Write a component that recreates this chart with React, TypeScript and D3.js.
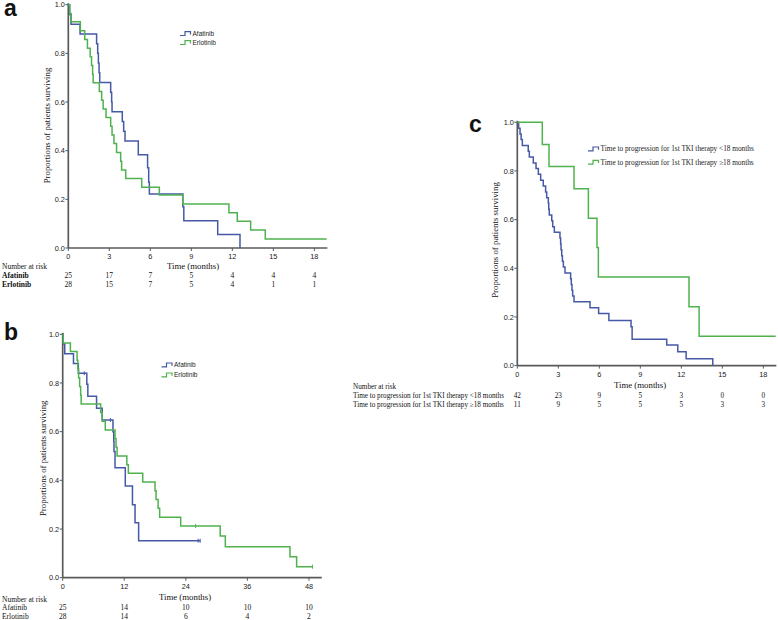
import React from "react";
import * as d3 from "d3";

const BLUE = "#4659a6";
const GREEN = "#4fb24f";
const SERIF = "'Liberation Serif', 'Times New Roman', serif";
const SANS = "'Liberation Sans', Arial, sans-serif";

// ---------- Panel a (PFS, months 0-18) ----------
const aTicks = [0, 3, 6, 9, 12, 15, 18];
const aAfatinibT = [0.1, 0.2, 0.86, 2.07, 2.15, 2.2, 2.25, 2.3, 3.1, 3.17, 3.2, 3.95, 4.05, 4.15, 5.12, 5.8, 5.88, 5.93, 8.38, 8.45, 10.93, 12.56];
const aAfatinibS = [0.96, 0.92, 0.88, 0.84, 0.8, 0.76, 0.72, 0.68, 0.64, 0.6, 0.56, 0.52, 0.48, 0.44, 0.383, 0.33, 0.27, 0.222, 0.17, 0.112, 0.056, 0];
const aAfatinibEnd = 12.56;
const aErlotinibT = [0.1, 0.2, 0.88, 1.2, 1.4, 1.6, 1.7, 1.78, 1.82, 2.27, 2.44, 2.55, 2.76, 3.1, 3.2, 3.34, 3.53, 3.83, 3.9, 4.2, 5.37, 6.66, 8.37, 11.75, 12.36, 13.34, 14.41];
const aErlotinibS = [0.964, 0.93, 0.893, 0.857, 0.821, 0.786, 0.75, 0.714, 0.679, 0.643, 0.607, 0.571, 0.536, 0.5, 0.464, 0.429, 0.393, 0.357, 0.321, 0.286, 0.25, 0.218, 0.181, 0.145, 0.11, 0.074, 0.037];
const aErlotinibEnd = 18.9;
const aRiskAfatinib = [25, 17, 7, 5, 4, 4, 4];
const aRiskErlotinib = [28, 15, 7, 5, 4, 1, 1];

// ---------- Panel b (OS, months 0-48) ----------
const bTicks = [0, 12, 24, 36, 48];
const bAfatinibT = [0.1, 0.4, 2.1, 3.05, 4.7, 4.9, 6.6, 7.7, 9.8, 9.95, 10.0, 10.2, 12.2, 13.6, 14.1, 14.8];
const bAfatinibS = [0.96, 0.92, 0.88, 0.84, 0.795, 0.745, 0.696, 0.648, 0.6, 0.56, 0.518, 0.452, 0.377, 0.3, 0.226, 0.152];
const bAfatinibEnd = 26.8;
const bAfatinibCensorT = [4.2, 9.3, 26.4, 26.8];
const bAfatinibCensorS = [0.84, 0.648, 0.152, 0.152];
const bErlotinibT = [0.1, 1.5, 2.8, 2.95, 3.1, 3.3, 3.5, 3.6, 7.4, 7.7, 8.3, 10.2, 10.4, 10.6, 12.5, 12.8, 15.6, 18.0, 18.2, 18.6, 18.9, 23.0, 30.7, 31.7, 44.3, 45.6];
const bErlotinibS = [0.964, 0.929, 0.893, 0.857, 0.821, 0.786, 0.75, 0.714, 0.679, 0.643, 0.607, 0.571, 0.536, 0.5, 0.464, 0.429, 0.393, 0.357, 0.321, 0.285, 0.248, 0.212, 0.171, 0.127, 0.086, 0.045];
const bErlotinibEnd = 48.7;
const bErlotinibCensorT = [25.9, 48.7];
const bErlotinibCensorS = [0.212, 0.045];
const bRiskAfatinib = [25, 14, 10, 10, 10];
const bRiskErlotinib = [28, 14, 6, 4, 2];

// ---------- Panel c (by 1st TKI TTP) ----------
const cTicks = [0, 3, 6, 9, 12, 15, 18];
const cShortT = [0.1, 0.2, 0.28, 0.37, 0.8, 0.88, 1.17, 1.37, 1.54, 1.71, 1.9, 2.07, 2.15, 2.27, 2.3, 2.34, 2.52, 2.59, 2.71, 3.12, 3.17, 3.2, 3.25, 3.3, 3.37, 3.49, 3.9, 3.95, 4.0, 4.05, 4.15, 5.32, 5.95, 6.7, 8.32, 8.4, 10.93, 11.74, 12.35, 14.3];
const cShortS = [0.976, 0.952, 0.929, 0.905, 0.881, 0.857, 0.833, 0.81, 0.786, 0.762, 0.738, 0.714, 0.69, 0.667, 0.643, 0.619, 0.595, 0.571, 0.548, 0.524, 0.5, 0.476, 0.452, 0.429, 0.405, 0.381, 0.357, 0.333, 0.31, 0.286, 0.262, 0.238, 0.214, 0.185, 0.16, 0.108, 0.085, 0.057, 0.028, 0];
const cShortEnd = 14.3;
const cLongT = [1.83, 2.32, 4.15, 5.2, 5.83, 5.93, 12.56, 13.3];
const cLongS = [0.909, 0.818, 0.727, 0.606, 0.485, 0.364, 0.242, 0.121];
const cLongEnd = 18.9;
const cRiskShort = [42, 23, 9, 5, 3, 0, 0];
const cRiskLong = [11, 9, 5, 5, 5, 3, 3];
const cLabelShort = "Time to progression for 1st TKI therapy <18 months";
const cLabelLong = "Time to progression for 1st TKI therapy ≥18 months";

const yTicks = [0, 0.2, 0.4, 0.6, 0.8, 1.0];

type Series = { t: number[]; s: number[]; end: number; color: string; ct?: number[]; cs?: number[] };

function Panel(props: any) {
  const p = props;
  const x = d3.scaleLinear().domain([0, p.xMax]).range([p.x0, p.x1]);
  const y = d3.scaleLinear().domain([0, 1]).range([p.yBottom, p.yTop]);
  const line = d3
    .line<[number, number]>()
    .x((d) => x(d[0]))
    .y((d) => y(d[1]))
    .curve(d3.curveStepAfter);
  const fmt = d3.format(".1f");
  const axisColor = "#5a5a5a";
  return (
    <g>
      <text x={p.letterX} y={p.letterY} fontFamily={SANS} fontWeight="bold" fontSize={23} fill="#111">
        {p.letter}
      </text>
      {/* axes */}
      <line x1={p.x0} x2={p.x0} y1={y(1) - 1.5} y2={y(0)} stroke={axisColor} strokeWidth={1.7} />
      <line x1={p.x0} x2={p.x1} y1={y(0)} y2={y(0)} stroke={axisColor} strokeWidth={1.7} />
      {yTicks.map((v) => (
        <g key={"y" + v}>
          <line x1={p.x0 - 3} x2={p.x0} y1={y(v)} y2={y(v)} stroke={axisColor} strokeWidth={1} />
          <text x={p.x0 - 3.5} y={y(v) + 2.6} textAnchor="end" fontFamily={SANS} fontSize={7.3} fill="#222">
            {fmt(v)}
          </text>
        </g>
      ))}
      {p.ticks.map((v: number) => (
        <g key={"x" + v}>
          <line x1={x(v)} x2={x(v)} y1={y(0)} y2={y(0) + 3} stroke={axisColor} strokeWidth={1} />
          <text x={x(v)} y={y(0) + 11.3} textAnchor="middle" fontFamily={SANS} fontSize={7.3} fill="#222">
            {v}
          </text>
        </g>
      ))}
      <text
        transform={`translate(${p.yLabelX},${p.yLabelY}) rotate(-90)`}
        textAnchor="middle"
        fontFamily={SERIF}
        fontSize={8.8}
        fill="#111"
      >
        Proportions of patients surviving
      </text>
      <text x={p.xLabelX} y={p.xLabelY} textAnchor="middle" fontFamily={SERIF} fontSize={8.8} fill="#111">
        Time (months)
      </text>
      {/* curves */}
      {p.series.map((sr: Series, i: number) => {
        const pts: [number, number][] = [[0, 1]];
        sr.t.forEach((t, k) => pts.push([t, sr.s[k]]));
        pts.push([sr.end, sr.s[sr.s.length - 1]]);
        return (
          <g key={"s" + i}>
            <path d={line(pts) || ""} fill="none" stroke={sr.color} strokeWidth={1.5} />
            {(sr.ct || []).map((t, k) => (
              <line
                key={k}
                x1={x(t)}
                x2={x(t)}
                y1={y(sr.cs![k]) - 2}
                y2={y(sr.cs![k]) + 2}
                stroke={sr.color}
                strokeWidth={1}
              />
            ))}
          </g>
        );
      })}
      {/* legend */}
      {p.legend.map((lg: any, i: number) => {
        const ly = p.legendY + i * p.legendGap;
        const lx = p.legendX;
        return (
          <g key={"l" + i}>
            <path
              d={`M${lx},${ly + 1.8} H${lx + 5} V${ly - 2} H${lx + 10.5} V${ly + 0.8}`}
              fill="none"
              stroke={lg.color}
              strokeWidth={1.2}
            />
            <text
              x={lx + 12.5}
              y={ly + 2.3}
              fontFamily={lg.font}
              fontSize={lg.size}
              fill="#222"
            >
              {lg.label}
            </text>
          </g>
        );
      })}
      {/* number at risk */}
      <text x={p.riskX} y={p.riskY} fontFamily={SERIF} fontSize={p.riskSize} fill="#111">
        Number at risk
      </text>
      {p.riskRows.map((row: any, i: number) => (
        <g key={"r" + i}>
          <text
            x={p.riskX}
            y={p.riskY + (i + 1) * p.riskGap}
            fontFamily={SERIF}
            fontSize={p.riskSize}
            fontWeight={row.bold ? "bold" : "normal"}
            fill="#111"
          >
            {row.label}
          </text>
          {row.values.map((v: number, k: number) => (
            <text
              key={k}
              x={x(p.ticks[k])}
              y={p.riskY + (i + 1) * p.riskGap}
              textAnchor="middle"
              fontFamily={SERIF}
              fontSize={p.riskSize}
              fill="#111"
            >
              {v}
            </text>
          ))}
        </g>
      ))}
    </g>
  );
}

export default function App() {
  const ppmA = 13.67;
  const ppmB = 5.13;
  return (
    <svg
      width={778}
      height={620}
      style={{ display: "block", background: "#fff", position: "absolute", left: 0, top: 0 }}
    >
      <Panel
        letter="a"
        letterX={4}
        letterY={16}
        x0={68.3}
        x1={68.3 + 18.95 * ppmA}
        xMax={18.95}
        yTop={4.7}
        yBottom={248}
        ticks={aTicks}
        yLabelX={49.5}
        yLabelY={125.5}
        xLabelX={193}
        xLabelY={269.3}
        series={[
          { t: aAfatinibT, s: aAfatinibS, end: aAfatinibEnd, color: BLUE },
          { t: aErlotinibT, s: aErlotinibS, end: aErlotinibEnd, color: GREEN },
        ]}
        legend={[
          { label: "Afatinib", color: BLUE, font: SANS, size: 6.5 },
          { label: "Erlotinib", color: GREEN, font: SANS, size: 6.5 },
        ]}
        legendX={180}
        legendY={33.7}
        legendGap={9}
        riskX={2}
        riskY={269.2}
        riskGap={8.9}
        riskSize={7.5}
        riskRows={[
          { label: "Afatinib", values: aRiskAfatinib, bold: true },
          { label: "Erlotinib", values: aRiskErlotinib, bold: true },
        ]}
      />
      <Panel
        letter="b"
        letterX={4}
        letterY={340}
        x0={62.7}
        x1={62.7 + 50.5 * ppmB}
        xMax={50.5}
        yTop={334.3}
        yBottom={577.7}
        ticks={bTicks}
        yLabelX={45.5}
        yLabelY={458.3}
        xLabelX={185}
        xLabelY={599.7}
        series={[
          { t: bAfatinibT, s: bAfatinibS, end: bAfatinibEnd, color: BLUE, ct: bAfatinibCensorT, cs: bAfatinibCensorS },
          { t: bErlotinibT, s: bErlotinibS, end: bErlotinibEnd, color: GREEN, ct: bErlotinibCensorT, cs: bErlotinibCensorS },
        ]}
        legend={[
          { label: "Afatinib", color: BLUE, font: SANS, size: 6.5 },
          { label: "Erlotinib", color: GREEN, font: SANS, size: 6.5 },
        ]}
        legendX={161.5}
        legendY={365}
        legendGap={10}
        riskX={2}
        riskY={601.6}
        riskGap={8.6}
        riskSize={7.5}
        riskRows={[
          { label: "Afatinib", values: bRiskAfatinib, bold: false },
          { label: "Erlotinib", values: bRiskErlotinib, bold: false },
        ]}
      />
      <Panel
        letter="c"
        letterX={469}
        letterY={132}
        x0={517.3}
        x1={517.3 + 18.95 * ppmA}
        xMax={18.95}
        yTop={122.3}
        yBottom={365.6}
        ticks={cTicks}
        yLabelX={498}
        yLabelY={240}
        xLabelX={640}
        xLabelY={388}
        series={[
          { t: cShortT, s: cShortS, end: cShortEnd, color: BLUE },
          { t: cLongT, s: cLongS, end: cLongEnd, color: GREEN },
        ]}
        legend={[
          { label: cLabelShort, color: BLUE, font: SERIF, size: 7.3 },
          { label: cLabelLong, color: GREEN, font: SERIF, size: 7.3 },
        ]}
        legendX={588}
        legendY={149}
        legendGap={13.3}
        riskX={353}
        riskY={388.6}
        riskGap={9}
        riskSize={7.2}
        riskRows={[
          { label: cLabelShort, values: cRiskShort, bold: false },
          { label: cLabelLong, values: cRiskLong, bold: false },
        ]}
      />
    </svg>
  );
}
